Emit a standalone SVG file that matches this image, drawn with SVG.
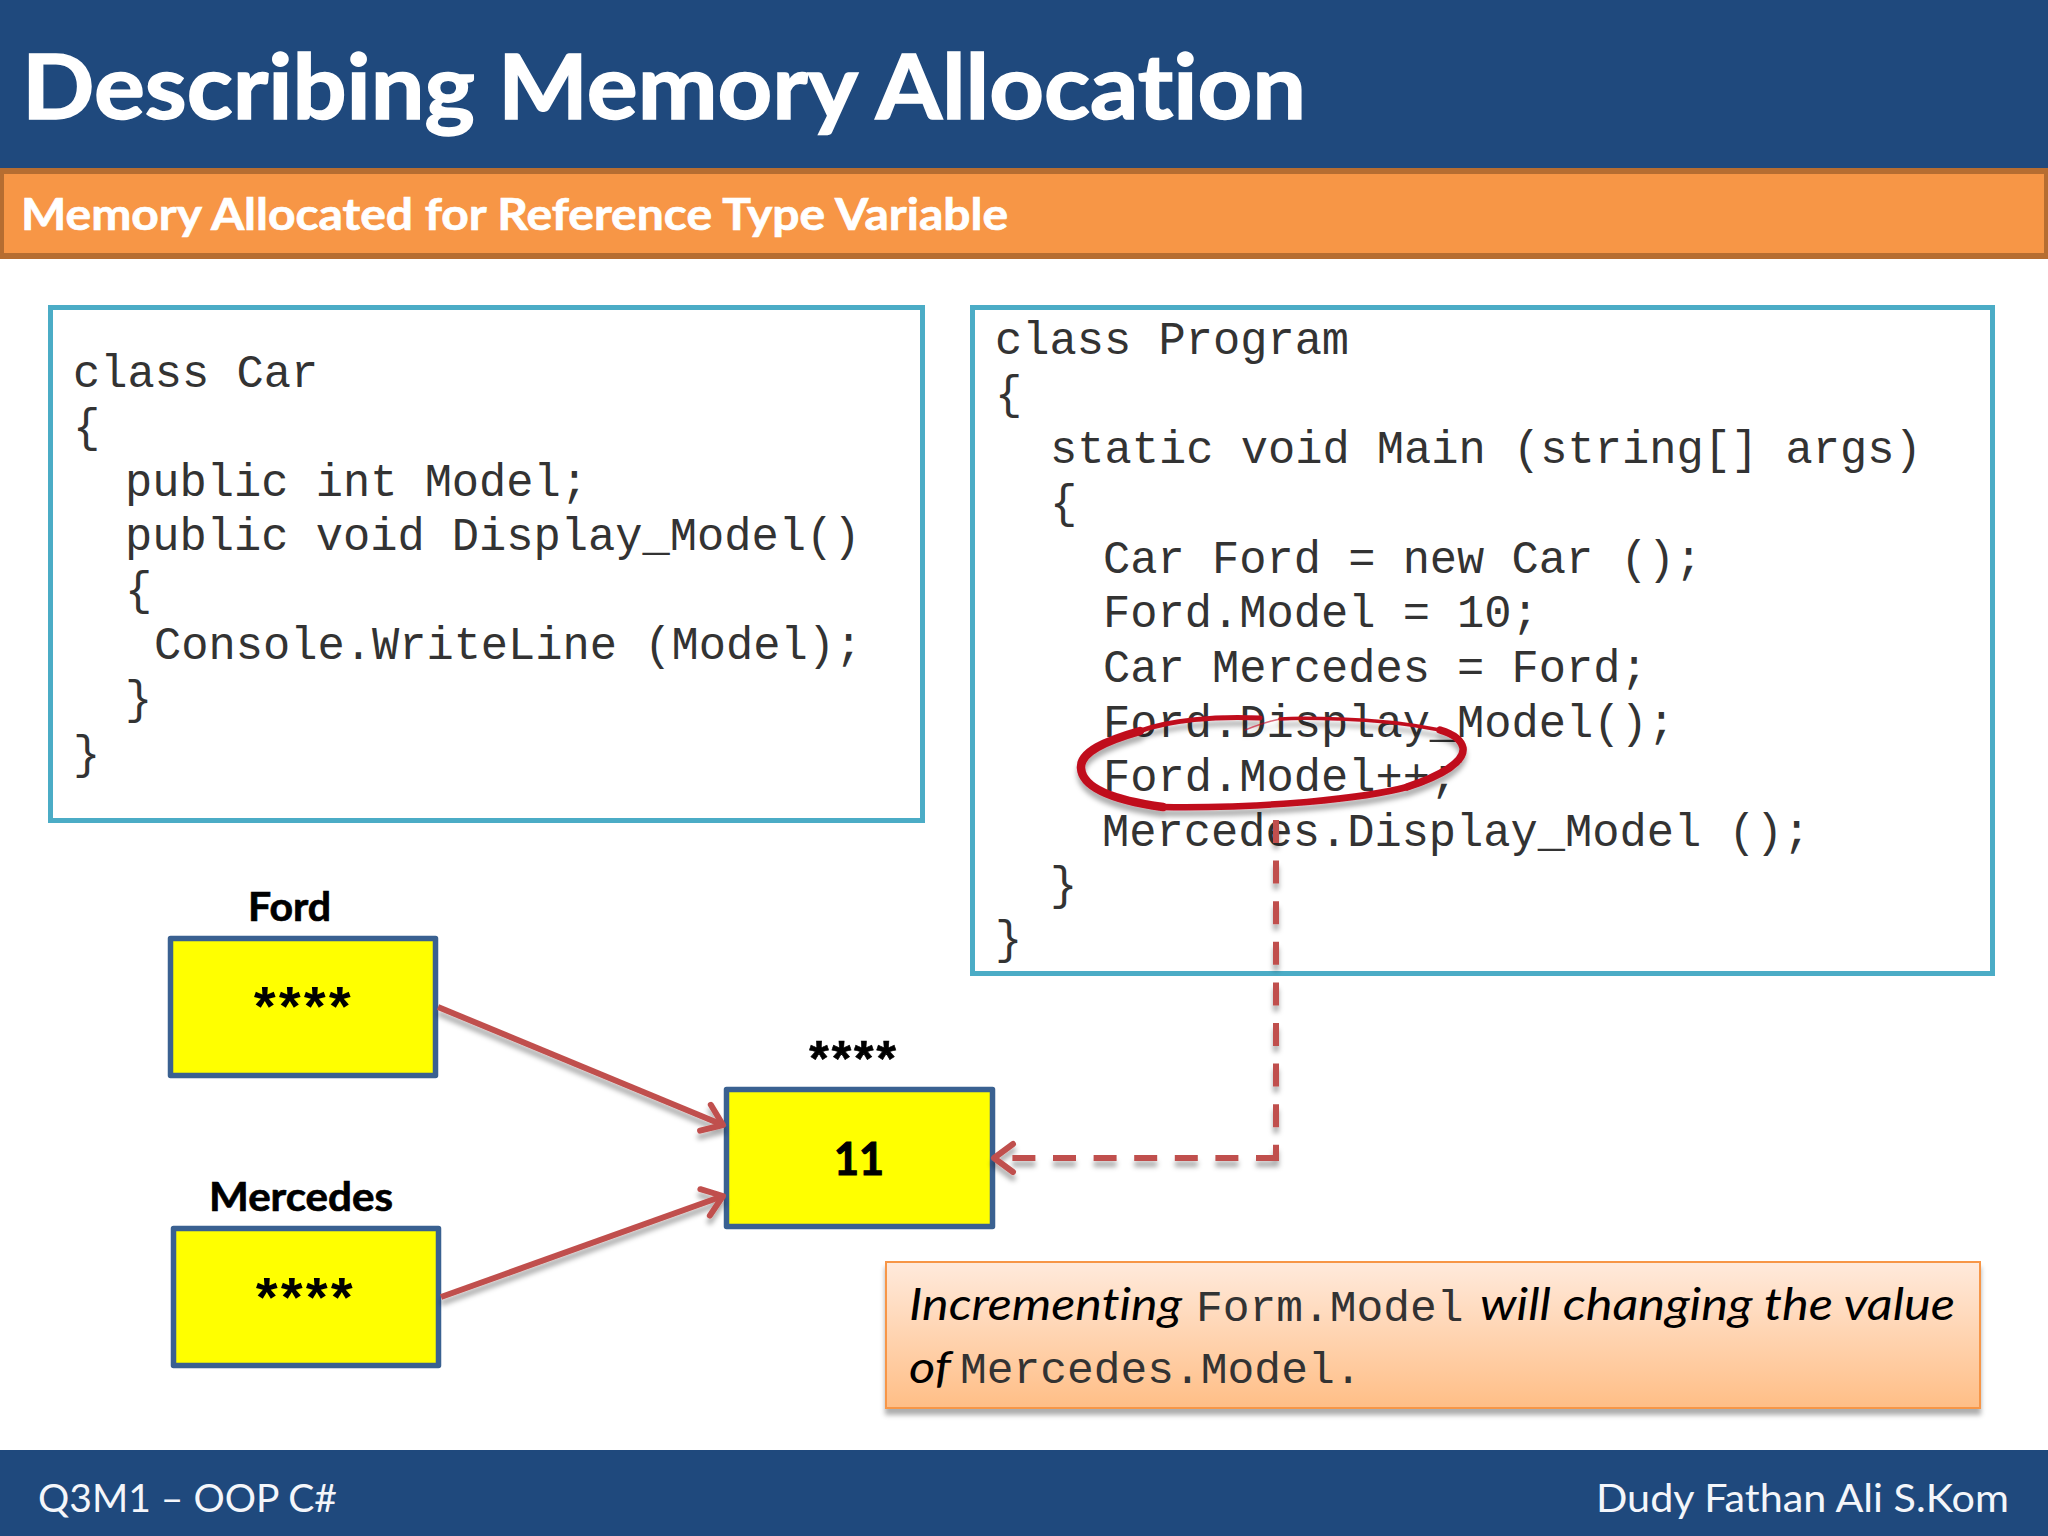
<svg xmlns="http://www.w3.org/2000/svg" width="2048" height="1536" viewBox="0 0 2048 1536">
<style>
text{font-variant-ligatures:none}
.code{font-family:"Liberation Mono",monospace;font-size:45.400px;fill:#333;white-space:pre}
.sans{font-family:Lato,"Noto Sans",sans-serif}
.box{fill:#ffff00;stroke:#3a6191;stroke-width:5.500;stroke-linejoin:round}
.codebox{fill:#fff;stroke:#4bacc6;stroke-width:5}
.lbl{font-family:Lato,"Noto Sans",sans-serif;font-weight:700;font-size:40px;fill:#000;stroke:#000;stroke-width:.7}
.star{font-family:"Liberation Mono",monospace;font-weight:700;font-size:56px;letter-spacing:-8.600px;fill:#000}
.star2{font-size:50px;letter-spacing:-7.600px;stroke:#000;stroke-width:.6}
.conn{fill:none;stroke:#c0504d;stroke-width:6}
.dash{stroke-dasharray:23 17.6}
.ring{fill:none;stroke:#c00a1e;stroke-linecap:round}
.note{font-family:Lato,"Noto Sans",sans-serif;font-style:italic;font-size:45px;fill:#000}
.notem{font-family:"Liberation Mono",monospace;font-size:44.600px;fill:#333}
.foot{font-family:Lato,"Noto Sans",sans-serif;font-size:38px;fill:#f4f6fa}
</style>
<defs>
<marker id="open" markerUnits="userSpaceOnUse" markerWidth="34" markerHeight="40" refX="25" refY="20" orient="auto">
<path d="M6 6 L25 20 L6 34" fill="none" stroke="#c0504d" stroke-width="6" stroke-linecap="round" stroke-linejoin="round"/>
</marker>
<linearGradient id="noteFill" x1="0" y1="0" x2="0" y2="1">
<stop offset="0" stop-color="#ffeadc"/><stop offset="1" stop-color="#ffbe86"/>
</linearGradient>
<filter id="shadow" x="-10%" y="-10%" width="120%" height="130%">
<feDropShadow dx="0" dy="6" stdDeviation="2.500" flood-color="#000" flood-opacity="0.32"/>
</filter>
</defs>
<rect width="2048" height="1536" fill="#fff"/>
<g id="header">
<rect width="2048" height="168" fill="#1f497d"/>
<text class="sans" x="22" y="119" font-size="89" font-weight="700" fill="#fff" stroke="#fff" stroke-width="1.500" textLength="1284" lengthAdjust="spacingAndGlyphs">Describing Memory Allocation</text>
</g>
<g id="subtitle">
<rect x="1" y="171" width="2046" height="85" fill="#f79646" stroke="#b66d31" stroke-width="6"/>
<text class="sans" x="21" y="230" font-size="44" font-weight="700" fill="#fff" stroke="#fff" stroke-width=".7" textLength="987" lengthAdjust="spacingAndGlyphs">Memory Allocated for Reference Type Variable</text>
</g>
<g id="code-car">
<rect class="codebox" x="50.500" y="307.500" width="872" height="513"/>
<text class="code" x="73" y="387">class Car</text>
<text class="code" x="73" y="441">{</text>
<text class="code" x="125" y="496">public int Model;</text>
<text class="code" x="125" y="550">public void Display_Model()</text>
<text class="code" x="125" y="604">{</text>
<text class="code" x="154" y="659">Console.WriteLine (Model);</text>
<text class="code" x="125" y="713">}</text>
<text class="code" x="73" y="768">}</text>
</g>
<g id="code-program">
<rect class="codebox" x="972.500" y="307.500" width="1020" height="666"/>
<text class="code" x="995" y="354">class Program</text>
<text class="code" x="995" y="408">{</text>
<text class="code" x="1050" y="463">static void Main (string[] args)</text>
<text class="code" x="1050" y="517">{</text>
<text class="code" x="1103" y="572.500">Car Ford = new Car ();</text>
<text class="code" x="1103" y="627">Ford.Model = 10;</text>
<text class="code" x="1103" y="681.500">Car Mercedes = Ford;</text>
<text class="code" x="1103" y="736.500">Ford.Display_Model();</text>
<text class="code" x="1103" y="791">Ford.Model++;</text>
<text class="code" x="1102" y="845.500">Mercedes.Display_Model ();</text>
<text class="code" x="1050" y="899">}</text>
<text class="code" x="995" y="953">}</text>
</g>
<g id="node-ford">
<text class="lbl" x="248" y="921" textLength="83" lengthAdjust="spacingAndGlyphs">Ford</text>
<rect class="box" x="170.500" y="938.500" width="265" height="137"/>
<text class="star" x="248" y="1027">****</text>
</g>
<g id="node-mercedes">
<text class="lbl" x="209" y="1211" textLength="184" lengthAdjust="spacingAndGlyphs">Mercedes</text>
<rect class="box" x="173.500" y="1228.500" width="265" height="137"/>
<text class="star" x="250" y="1318">****</text>
</g>
<g id="node-object">
<text class="star star2" x="804" y="1077">****</text>
<rect class="box" x="726.500" y="1089.500" width="266" height="137"/>
<text class="lbl" x="834" y="1175" textLength="50" lengthAdjust="spacingAndGlyphs" style="font-size:46px;stroke-width:1.200">11</text>
</g>
<g id="callout">
<rect x="886" y="1262" width="1094" height="146" fill="url(#noteFill)" stroke="#f79646" stroke-width="2" filter="url(#shadow)"/>
<text class="note" x="909" y="1320" textLength="273" lengthAdjust="spacingAndGlyphs">Incrementing</text>
<text class="notem" x="1196" y="1321">Form.Model</text>
<text class="note" x="1480" y="1320" textLength="475" lengthAdjust="spacingAndGlyphs">will changing the value</text>
<text class="note" x="909" y="1383" textLength="42" lengthAdjust="spacingAndGlyphs">of</text>
<text class="notem" x="960" y="1383">Mercedes.Model.</text>
</g>
<g id="connectors" filter="url(#shadow)">
<path class="conn" d="M438 1007 L723 1125" marker-end="url(#open)"/>
<path class="conn" d="M441 1297 L723 1196" marker-end="url(#open)"/>
<path class="conn dash" d="M1276 820 V1158"/>
<path class="conn dash" d="M1279 1158 H994" marker-end="url(#open)"/>
</g>
<g id="ring" filter="url(#shadow)">
<path class="ring" stroke-width="5" d="M1260 718 C1215 716 1170 720 1140 731"/>
<path class="ring" stroke-width="8.500" d="M1140 731 C1105 741 1080 752 1081 768 C1082 785 1105 799 1163 807"/>
<path class="ring" stroke-width="6.500" d="M1163 807 C1220 808 1270 805 1307 802 C1350 798 1385 793 1407 787"/>
<path class="ring" stroke-width="7.500" d="M1407 787 C1440 776 1465 762 1463 748 C1461 738 1450 733 1440 730"/>
<path class="ring" stroke-width="3.500" d="M1440 730 C1410 724 1380 720 1340 719 C1310 718 1295 718 1280 719"/>
<path class="ring" stroke-width="1.500" opacity=".6" d="M1280 719 C1265 722 1255 726 1245 730"/>
</g>
<g id="footer">
<rect y="1450" width="2048" height="86" fill="#1f497d"/>
<text class="foot" x="38" y="1512" textLength="299" lengthAdjust="spacingAndGlyphs">Q3M1 – OOP C#</text>
<text class="foot" x="1596" y="1512" textLength="413" lengthAdjust="spacingAndGlyphs">Dudy Fathan Ali S.Kom</text>
</g>
</svg>
